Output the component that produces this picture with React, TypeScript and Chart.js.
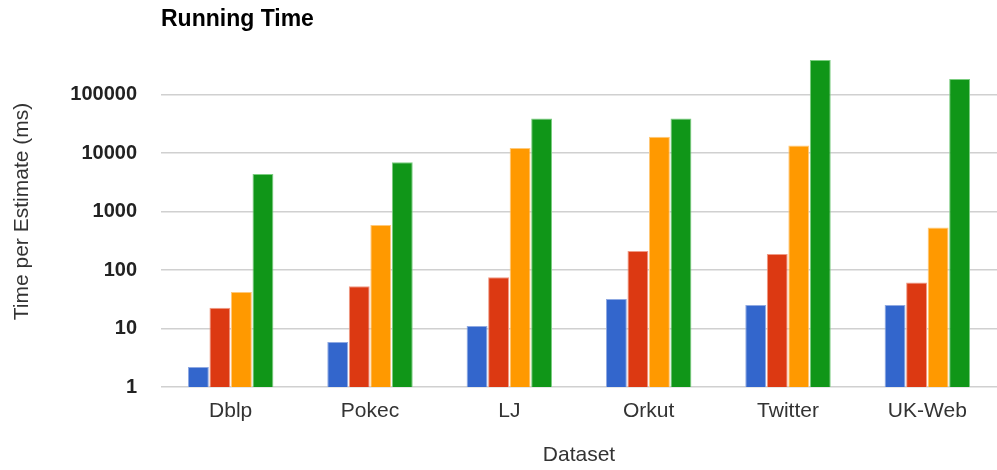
import React, { useEffect, useRef } from "react";
import { Chart, registerables } from "chart.js";

Chart.register(...registerables);

const categories = ["Dblp", "Pokec", "LJ", "Orkut", "Twitter", "UK-Web"];
const seriesA = [2.2, 5.9, 11, 32, 25.2, 25.2];
const seriesB = [22.6, 53, 75, 211, 188, 61];
const seriesC = [42, 588, 12200, 19000, 13400, 531];
const seriesD = [4370, 6940, 38700, 39000, 389000, 184000];
const yTicks = [1, 10, 100, 1000, 10000, 100000, 1000000];

const FONT = "Arial, 'Liberation Sans', sans-serif";

const titlePlugin = {
  id: "customTitle",
  afterDraw(chart: any) {
    const ctx = chart.ctx;
    ctx.save();
    ctx.font = `bold 23px ${FONT}`;
    ctx.fillStyle = "#000";
    ctx.textAlign = "left";
    ctx.textBaseline = "alphabetic";
    ctx.fillText("Running Time", 161, 26);
    ctx.restore();
  },
};

export default function App() {
  const ref = useRef<HTMLCanvasElement>(null);
  useEffect(() => {
    document.body.style.margin = "0";
    const mk = (label: string, data: number[], color: string, border: string) => ({
      label,
      data,
      backgroundColor: color,
      borderColor: border,
      borderWidth: 1,
      categoryPercentage: 0.618,
      barPercentage: 0.97,
    });
    const chart = new Chart(ref.current!, {
      type: "bar",
      data: {
        labels: categories,
        datasets: [
          mk("A", seriesA, "#3366cc", "#8fa9e2"),
          mk("B", seriesB, "#dc3912", "#f09a85"),
          mk("C", seriesC, "#ff9900", "#ffc97a"),
          mk("D", seriesD, "#109618", "#7bcd80"),
        ],
      },
      options: {
        animation: false,
        responsive: false,
        layout: { padding: { top: 36, left: 0, right: 0, bottom: 0 } },
        plugins: { legend: { display: false }, tooltip: { enabled: false } },
        scales: {
          x: {
            grid: { display: false, drawTicks: false },
            border: { display: false },
            ticks: { color: "#333", font: { family: FONT, size: 21 }, padding: 12, maxRotation: 0 },
            title: {
              display: true,
              text: "Dataset",
              color: "#333",
              font: { family: FONT, size: 21, lineHeight: 1.2 },
              padding: { top: 0, bottom: 2 },
            },
            afterFit: (s: any) => { s.height = 83; },
          },
          y: {
            type: "logarithmic",
            min: 1,
            max: 1000000,
            afterBuildTicks: (s: any) => { s.ticks = yTicks.map((v) => ({ value: v })); },
            grid: {
              drawTicks: false,
              color: (c: any) => (c.tick && c.tick.value >= 1000000 ? "rgba(0,0,0,0)" : "#d0d0d0"),
              lineWidth: 1.5,
            },
            border: { display: false },
            ticks: {
              color: "#222",
              padding: 24,
              font: { family: FONT, size: 20, weight: "bold" },
              callback: (v: any) => (Number(v) >= 1000000 ? "" : String(v)),
            },
            title: {
              display: true,
              text: "Time per Estimate (ms)",
              color: "#333",
              font: { family: FONT, size: 21, lineHeight: 1.2 },
              padding: { top: 10, bottom: 0 },
            },
            afterFit: (s: any) => { s.width = 161; },
          },
        },
      },
      plugins: [titlePlugin],
    } as any);
    return () => chart.destroy();
  }, []);
  return (
    <div style={{ width: 997, height: 470 }}>
      <canvas ref={ref} width={997} height={470} style={{ display: "block" }} />
    </div>
  );
}
